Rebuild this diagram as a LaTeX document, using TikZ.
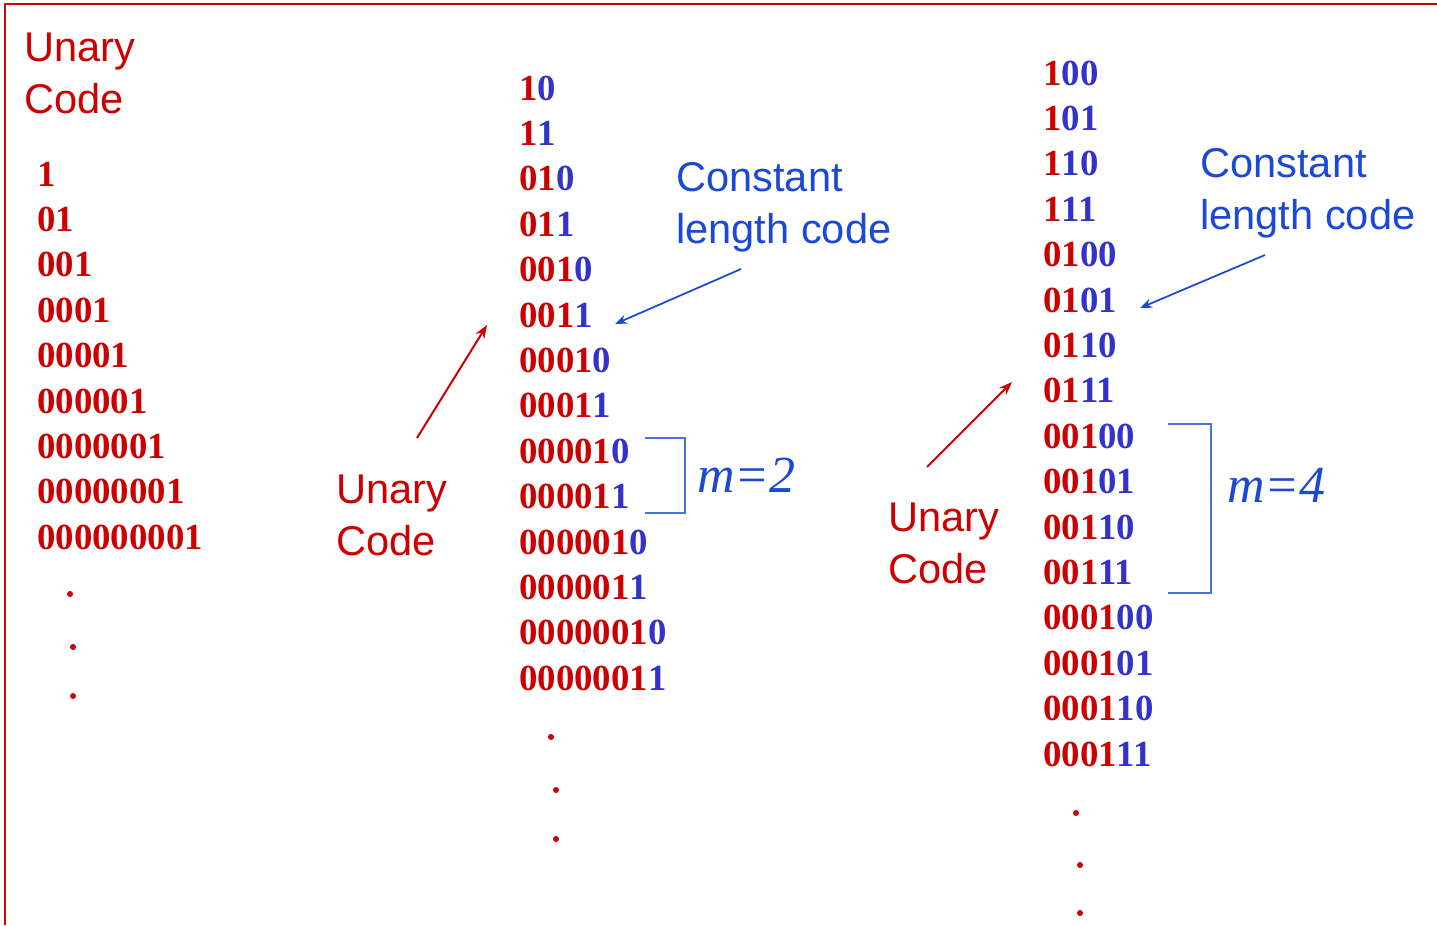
\documentclass[tikz,border=0pt]{standalone}
\usepackage{fontspec}
\setmainfont{Liberation Serif}
\newfontfamily\labelfont{Liberation Sans}
\usetikzlibrary{arrows.meta}
\definecolor{ured}{RGB}{204,0,0}
\definecolor{dblue}{RGB}{51,51,204}
\definecolor{lblue}{RGB}{28,72,214}
\definecolor{brblue}{RGB}{72,112,222}
\definecolor{bord}{RGB}{200,10,10}
\tikzset{
  digits/.style={anchor=base west, inner sep=0pt, font=\fontsize{27.6}{30}\selectfont\bfseries},
  lab/.style={anchor=base west, inner sep=0pt, align=left, font=\labelfont\fontsize{31.2}{39}\selectfont},
  mlab/.style={anchor=base west, inner sep=0pt, text=lblue, font=\fontsize{39}{45}\selectfont\itshape},
  dotm/.style={fill=ured, draw=none},
  redarrow/.style={draw=ured, line width=1.5pt, -{Stealth[length=10pt,width=7.5pt]}},
  bluearrow/.style={draw=lblue, line width=1.3pt, -{Stealth[length=9pt,width=7pt]}},
  bracket/.style={draw=brblue, line width=1.6pt},
}
\begin{document}
\begin{tikzpicture}[x=0.75pt,y=-0.75pt]
\useasboundingbox (0,0) rectangle (1437,925);
\fill[white] (0,0) rectangle (1437,925);
% border
\draw[bord, line width=2.2pt] (5,925) -- (5,4) -- (1437,4);

% column 1
\node[lab, text=ured] (lab1) at (24,113) {Unary\\Code};
\foreach \r [count=\i] in {1,01,001,0001,00001,000001,0000001,00000001,000000001}{
  \node[digits, text=ured] (a\i) at (37,{174+45.4*(\i-1)+12}) {\r};
}
\fill[dotm] (70,594) circle (3);
\fill[dotm] (73,647) circle (3);
\fill[dotm] (73,696) circle (3);

% column 2
\foreach \r/\b [count=\i] in {1/0,1/1,01/0,01/1,001/0,001/1,0001/0,0001/1,00001/0,00001/1,000001/0,000001/1,0000001/0,0000001/1}{
  \node[digits] (b\i) at (519,{88+45.4*(\i-1)+12}) {\textcolor{ured}{\r}\textcolor{dblue}{\b}};
}
\fill[dotm] (551,737) circle (3);
\fill[dotm] (556,790) circle (3);
\fill[dotm] (556,839) circle (3);

% column 3
\foreach \r/\b [count=\i] in {1/00,1/01,1/10,1/11,01/00,01/01,01/10,01/11,001/00,001/01,001/10,001/11,0001/00,0001/01,0001/10,0001/11}{
  \node[digits] (c\i) at (1043,{73+45.4*(\i-1)+12}) {\textcolor{ured}{\r}\textcolor{dblue}{\b}};
}
\fill[dotm] (1076,813) circle (3);
\fill[dotm] (1080,865) circle (3);
\fill[dotm] (1080,913) circle (3);

% labels column 2
\node[lab, text=ured] (lab2) at (336,555) {Unary\\Code};
\node[lab, text=lblue] (const2) at (676,243) {Constant\\length code};
\node[mlab] (m2) at (697,492) {m=2};
\draw[bracket] (645,438) -- (685,438) -- (685,513) -- (645,513);

% labels column 3
\node[lab, text=ured] (lab3) at (888,583) {Unary\\Code};
\node[lab, text=lblue] (const3) at (1200,229) {Constant\\length code};
\node[mlab] (m4) at (1227,502) {m=4};
\draw[bracket] (1168,424) -- (1211,424) -- (1211,593) -- (1168,593);

% arrows
\coordinate (u2s) at (417,438);
\coordinate (u2e) at (487,325);
\coordinate (u3s) at (927,467);
\coordinate (u3e) at (1012,382);
\coordinate (k2s) at (741,269);
\coordinate (k2e) at (615,324);
\coordinate (k3s) at (1265,255);
\coordinate (k3e) at (1140,308);
\draw[redarrow] (u2s) -- (u2e);
\draw[redarrow] (u3s) -- (u3e);
\draw[bluearrow] (k2s) -- (k2e);
\draw[bluearrow] (k3s) -- (k3e);
\end{tikzpicture}
\end{document}
